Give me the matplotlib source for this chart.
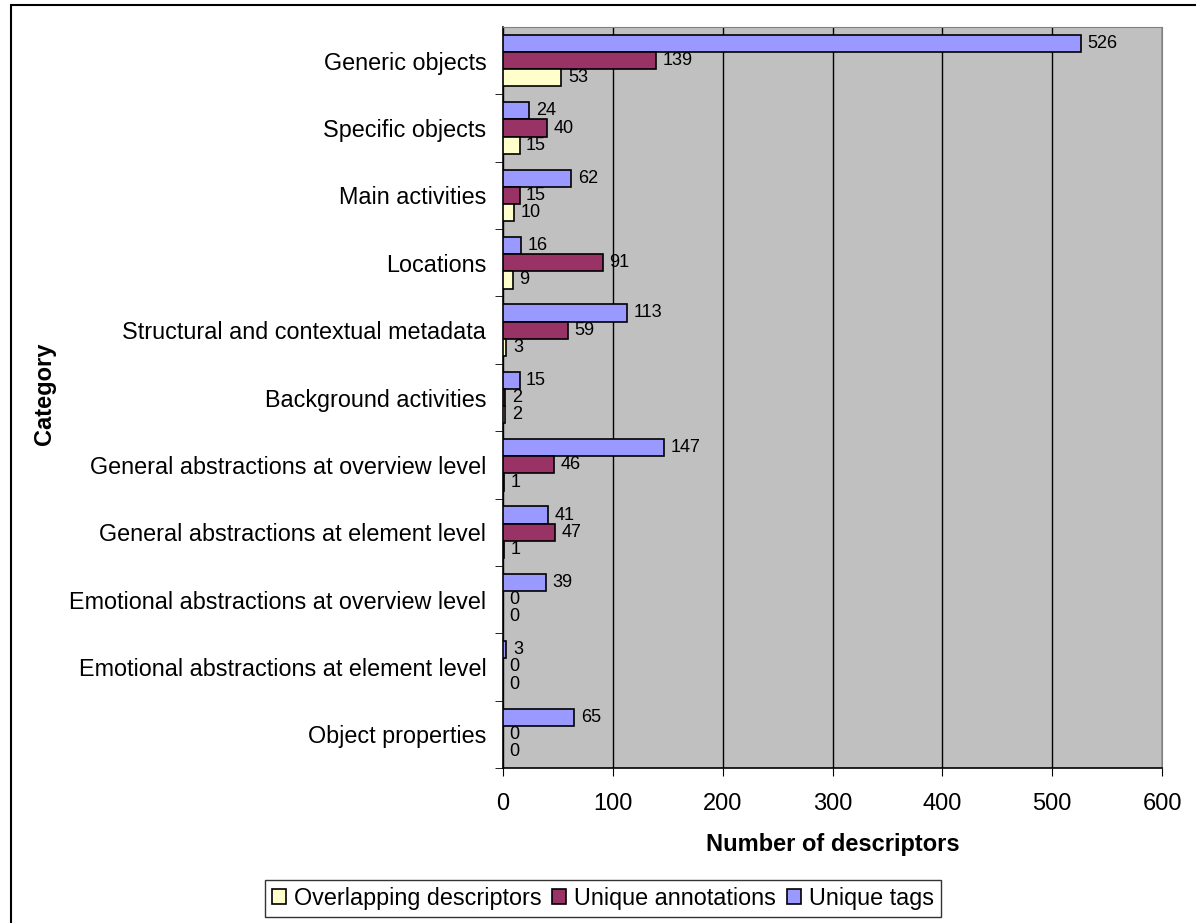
import matplotlib.pyplot as plt
import numpy as np
from matplotlib.patches import Rectangle

plt.rcParams["font.family"] = ["Liberation Sans", "DejaVu Sans"]

categories = ["Generic objects", "Specific objects", "Main activities", "Locations",
              "Structural and contextual metadata", "Background activities",
              "General abstractions at overview level", "General abstractions at element level",
              "Emotional abstractions at overview level", "Emotional abstractions at element level",
              "Object properties"]
unique_tags = [526, 24, 62, 16, 113, 15, 147, 41, 39, 3, 65]
unique_annotations = [139, 40, 15, 91, 59, 2, 46, 47, 0, 0, 0]
overlapping = [53, 15, 10, 9, 3, 2, 1, 1, 0, 0, 0]
x_ticks = [0, 100, 200, 300, 400, 500, 600]

series = [("Unique tags", unique_tags, "#9999FF", -1),
          ("Unique annotations", unique_annotations, "#993366", 0),
          ("Overlapping descriptors", overlapping, "#FFFFCC", 1)]

fig = plt.figure(figsize=(11.96, 9.23), dpi=100)
fig.patches.append(Rectangle((0.009, -0.01), 1.2, 1.0047, transform=fig.transFigure,
                             fill=False, edgecolor="black", lw=1.5))
ax = fig.add_axes([0.4206, 0.1679, 0.5510, 0.8028])
ax.set_facecolor("#C0C0C0")

pos = np.arange(len(categories))
bh = 0.255
handles = {}
for name, vals, col, k in series:
    bars = ax.barh(pos + k * bh, vals, height=bh, color=col, edgecolor="black", lw=1.2, zorder=3)
    handles[name] = bars
    for y, v in zip(pos + k * bh, vals):
        ax.text(v + 6, y, str(v), ha="left", va="center", fontsize=13, zorder=4)

ax.set_xlim(0, 600)
ax.set_ylim(len(categories) - 0.5, -0.5)
ax.set_xticks(x_ticks)
ax.set_xticklabels([str(t) for t in x_ticks], fontsize=17)
ax.tick_params(axis="x", length=6, pad=12, direction="out")
ax.set_yticks(pos)
ax.set_yticklabels(categories, fontsize=16.8)
ax.tick_params(axis="y", length=0, pad=12)
ax.set_yticks(np.arange(1, len(categories) + 1) - 0.5, minor=True)
ax.tick_params(axis="y", which="minor", length=6, direction="out")
ax.grid(axis="x", color="black", lw=1, zorder=1)
for s in ["top", "right"]:
    ax.spines[s].set_color("#808080")
for s in ["left", "bottom"]:
    ax.spines[s].set_color("black")
    ax.spines[s].set_linewidth(1.2)

ax.set_xlabel("Number of descriptors", fontsize=17, fontweight="bold", labelpad=13)
fig.text(0.037, 0.573, "Category", rotation=90, fontsize=17, fontweight="bold",
         ha="center", va="center")

order = ["Overlapping descriptors", "Unique annotations", "Unique tags"]
leg = fig.legend([handles[n] for n in order], order, loc="center", bbox_to_anchor=(0.504, 0.0265),
                 ncol=3, fontsize=16.8, frameon=True, fancybox=False, edgecolor="black",
                 handlelength=0.6, handleheight=0.6, handletextpad=0.35, columnspacing=0.45,
                 borderpad=0.3, borderaxespad=0)
leg.get_frame().set_linewidth(1)

fig.savefig("out.png", dpi=100)
